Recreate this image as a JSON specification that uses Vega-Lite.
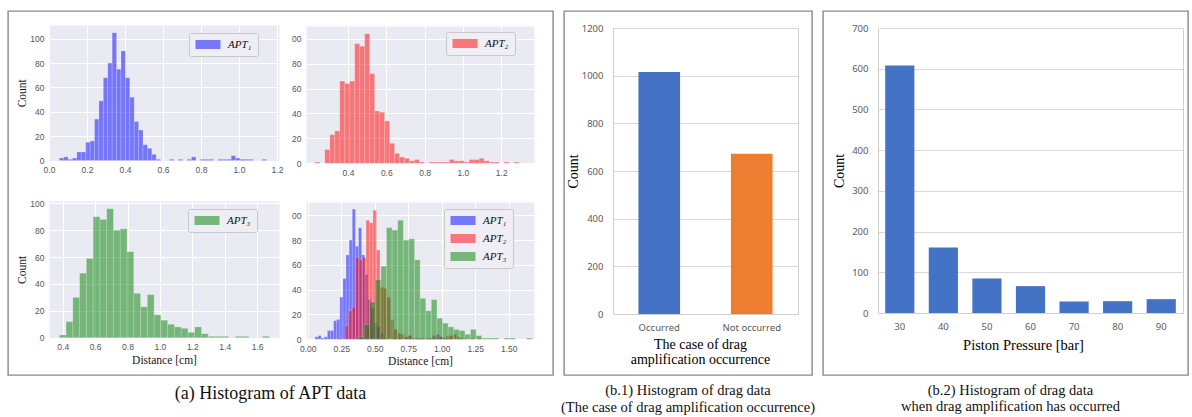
{
  "$schema": "https://vega.github.io/schema/vega-lite/v6.json",
  "background": "white",
  "padding": {"left": 7, "top": 10, "right": 4, "bottom": 0},
  "autosize": {"type": "pad"},
  "spacing": 11,
  "bounds": "flush",
  "datasets": {
    "apt": [
      {"s":"APT₁","x0":0.0540,"x1":0.0772,"n":2},{"s":"APT₁","x0":0.0772,"x1":0.1004,"n":3},{"s":"APT₁","x0":0.1004,"x1":0.1236,"n":1},{"s":"APT₁","x0":0.1236,"x1":0.1468,"n":2},{"s":"APT₁","x0":0.1468,"x1":0.1700,"n":7},{"s":"APT₁","x0":0.1700,"x1":0.1932,"n":7},{"s":"APT₁","x0":0.1932,"x1":0.2164,"n":15},{"s":"APT₁","x0":0.2164,"x1":0.2396,"n":16},{"s":"APT₁","x0":0.2396,"x1":0.2628,"n":34},{"s":"APT₁","x0":0.2628,"x1":0.2860,"n":49},{"s":"APT₁","x0":0.2860,"x1":0.3092,"n":68},{"s":"APT₁","x0":0.3092,"x1":0.3324,"n":80},{"s":"APT₁","x0":0.3324,"x1":0.3556,"n":105},{"s":"APT₁","x0":0.3556,"x1":0.3788,"n":75},{"s":"APT₁","x0":0.3788,"x1":0.4020,"n":90},{"s":"APT₁","x0":0.4020,"x1":0.4252,"n":68},{"s":"APT₁","x0":0.4252,"x1":0.4484,"n":52},{"s":"APT₁","x0":0.4484,"x1":0.4716,"n":32},{"s":"APT₁","x0":0.4716,"x1":0.4948,"n":25},{"s":"APT₁","x0":0.4948,"x1":0.5180,"n":13},{"s":"APT₁","x0":0.5180,"x1":0.5412,"n":10},{"s":"APT₁","x0":0.5412,"x1":0.5644,"n":5},{"s":"APT₁","x0":0.5644,"x1":0.5876,"n":1},{"s":"APT₁","x0":0.6340,"x1":0.6572,"n":1},{"s":"APT₁","x0":0.6804,"x1":0.7036,"n":1},{"s":"APT₁","x0":0.7268,"x1":0.7500,"n":1},{"s":"APT₁","x0":0.7500,"x1":0.7732,"n":3},{"s":"APT₁","x0":0.7964,"x1":0.8196,"n":1},{"s":"APT₁","x0":0.8196,"x1":0.8428,"n":1},{"s":"APT₁","x0":0.8428,"x1":0.8660,"n":1},{"s":"APT₁","x0":0.8892,"x1":0.9124,"n":1},{"s":"APT₁","x0":0.9124,"x1":0.9356,"n":1},{"s":"APT₁","x0":0.9356,"x1":0.9588,"n":1},{"s":"APT₁","x0":0.9588,"x1":0.9820,"n":4},{"s":"APT₁","x0":0.9820,"x1":1.0052,"n":2},{"s":"APT₁","x0":1.0052,"x1":1.0284,"n":1},{"s":"APT₁","x0":1.0284,"x1":1.0516,"n":1},{"s":"APT₁","x0":1.0516,"x1":1.0748,"n":1},{"s":"APT₁","x0":1.1212,"x1":1.1444,"n":1},
      {"s":"APT₂","x0":0.227,"x1":0.253,"n":1},{"s":"APT₂","x0":0.279,"x1":0.305,"n":11},{"s":"APT₂","x0":0.305,"x1":0.331,"n":23},{"s":"APT₂","x0":0.331,"x1":0.357,"n":26},{"s":"APT₂","x0":0.357,"x1":0.383,"n":66},{"s":"APT₂","x0":0.383,"x1":0.409,"n":64},{"s":"APT₂","x0":0.409,"x1":0.435,"n":66},{"s":"APT₂","x0":0.435,"x1":0.461,"n":96},{"s":"APT₂","x0":0.461,"x1":0.487,"n":94},{"s":"APT₂","x0":0.487,"x1":0.513,"n":104},{"s":"APT₂","x0":0.513,"x1":0.539,"n":72},{"s":"APT₂","x0":0.539,"x1":0.565,"n":42},{"s":"APT₂","x0":0.565,"x1":0.591,"n":41},{"s":"APT₂","x0":0.591,"x1":0.617,"n":34},{"s":"APT₂","x0":0.617,"x1":0.643,"n":16},{"s":"APT₂","x0":0.643,"x1":0.669,"n":8},{"s":"APT₂","x0":0.669,"x1":0.695,"n":5},{"s":"APT₂","x0":0.695,"x1":0.721,"n":4},{"s":"APT₂","x0":0.721,"x1":0.747,"n":2},{"s":"APT₂","x0":0.747,"x1":0.773,"n":3},{"s":"APT₂","x0":0.773,"x1":0.799,"n":1},{"s":"APT₂","x0":0.825,"x1":0.851,"n":1},{"s":"APT₂","x0":0.851,"x1":0.877,"n":1},{"s":"APT₂","x0":0.877,"x1":0.903,"n":1},{"s":"APT₂","x0":0.903,"x1":0.929,"n":1},{"s":"APT₂","x0":0.929,"x1":0.955,"n":3},{"s":"APT₂","x0":0.955,"x1":0.981,"n":2},{"s":"APT₂","x0":0.981,"x1":1.007,"n":2},{"s":"APT₂","x0":1.007,"x1":1.033,"n":1},{"s":"APT₂","x0":1.033,"x1":1.059,"n":3},{"s":"APT₂","x0":1.059,"x1":1.085,"n":3},{"s":"APT₂","x0":1.085,"x1":1.111,"n":4},{"s":"APT₂","x0":1.111,"x1":1.137,"n":2},{"s":"APT₂","x0":1.137,"x1":1.163,"n":1},{"s":"APT₂","x0":1.163,"x1":1.189,"n":1},{"s":"APT₂","x0":1.215,"x1":1.241,"n":1},{"s":"APT₂","x0":1.267,"x1":1.293,"n":1},
      {"s":"APT₃","x0":0.3790,"x1":0.4208,"n":2},{"s":"APT₃","x0":0.4208,"x1":0.4626,"n":12},{"s":"APT₃","x0":0.4626,"x1":0.5044,"n":30},{"s":"APT₃","x0":0.5044,"x1":0.5462,"n":48},{"s":"APT₃","x0":0.5462,"x1":0.5880,"n":59},{"s":"APT₃","x0":0.5880,"x1":0.6298,"n":90},{"s":"APT₃","x0":0.6298,"x1":0.6716,"n":88},{"s":"APT₃","x0":0.6716,"x1":0.7134,"n":96},{"s":"APT₃","x0":0.7134,"x1":0.7552,"n":80},{"s":"APT₃","x0":0.7552,"x1":0.7970,"n":81},{"s":"APT₃","x0":0.7970,"x1":0.8388,"n":64},{"s":"APT₃","x0":0.8388,"x1":0.8806,"n":33},{"s":"APT₃","x0":0.8806,"x1":0.9224,"n":23},{"s":"APT₃","x0":0.9224,"x1":0.9642,"n":32},{"s":"APT₃","x0":0.9642,"x1":1.0060,"n":17},{"s":"APT₃","x0":1.0060,"x1":1.0478,"n":13},{"s":"APT₃","x0":1.0478,"x1":1.0896,"n":10},{"s":"APT₃","x0":1.0896,"x1":1.1314,"n":8},{"s":"APT₃","x0":1.1314,"x1":1.1732,"n":7},{"s":"APT₃","x0":1.1732,"x1":1.2150,"n":4},{"s":"APT₃","x0":1.2150,"x1":1.2568,"n":8},{"s":"APT₃","x0":1.2568,"x1":1.2986,"n":3},{"s":"APT₃","x0":1.2986,"x1":1.3404,"n":1},{"s":"APT₃","x0":1.3404,"x1":1.3822,"n":1},{"s":"APT₃","x0":1.3822,"x1":1.4240,"n":1},{"s":"APT₃","x0":1.4658,"x1":1.5076,"n":1},{"s":"APT₃","x0":1.5076,"x1":1.5494,"n":1},{"s":"APT₃","x0":1.6330,"x1":1.6748,"n":1}
    ],
    "drag": [
      {"case": "Occurred", "count": 1015},
      {"case": "Not occurred", "count": 672}
    ],
    "pressure": [
      {"p": "30", "count": 608},
      {"p": "40", "count": 161},
      {"p": "50", "count": 85},
      {"p": "60", "count": 66},
      {"p": "70", "count": 28},
      {"p": "80", "count": 29},
      {"p": "90", "count": 34}
    ]
  },
  "hconcat": [
    {
      "width": 545,
      "height": 364,
      "title": {"text": "(a) Histogram of APT data", "orient": "bottom", "anchor": "middle", "fontSize": 18, "offset": 10, "dx": -10},
      "layer": [
        {
          "layer": [
            {"data": {"values": [{}]},
             "mark": {"type": "point", "opacity": 0},
             "encoding": {
               "x": {"datum": 0.60525, "type": "quantitative", "scale": {"domain": [0, 1.2105], "range": [41, 271], "nice": false, "zero": false},
                     "axis": {"orient": "top", "values": [0.60525], "grid": true, "gridColor": "#EAEAF2", "gridWidth": 230, "gridOpacity": 1, "labels": false, "ticks": false, "domain": false, "title": null}},
               "y": {"datum": 50, "type": "quantitative", "scale": {"domain": [0, 111.3], "range": [149.5, 14], "nice": false, "zero": false},
                     "axis": {"orient": "left", "offset": -41, "values": [0, 20, 40, 60, 80, 100], "grid": true, "gridColor": "#ffffff", "ticks": false, "domain": false, "labelPadding": 5, "title": "Count", "titlePadding": 2}}}},
            {"data": {"values": [{}]},
             "mark": {"type": "point", "opacity": 0},
             "encoding": {
               "x": {"datum": 0.60525, "type": "quantitative", "scale": {"domain": [0, 1.2105], "range": [41, 271], "nice": false, "zero": false},
                     "axis": {"orient": "top", "values": [0, 0.2, 0.4, 0.6, 0.8, 1.0, 1.2], "grid": true, "gridColor": "#ffffff", "gridWidth": 1, "labels": false, "ticks": false, "domain": false, "title": null}},
               "y": {"datum": 50, "type": "quantitative", "scale": {"domain": [0, 111.3], "range": [149.5, 14], "nice": false, "zero": false}, "axis": null}}},
            {"data": {"name": "apt"},
             "transform": [{"filter": "datum.s === 'APT₁'"}],
             "mark": {"type": "bar", "fillOpacity": 0.5, "stroke": "#ffffff", "strokeWidth": 0.5, "strokeOpacity": 0.4},
             "encoding": {
               "x": {"field": "x0", "type": "quantitative", "scale": {"domain": [0, 1.2105], "range": [41, 271], "nice": false, "zero": false},
                     "axis": {"orient": "bottom", "offset": -214.5, "values": [0, 0.2, 0.4, 0.6, 0.8, 1.0, 1.2], "format": ".1f", "grid": false, "ticks": false, "domain": false, "labelPadding": 5, "title": null}},
               "x2": {"field": "x1"},
               "y": {"field": "n", "type": "quantitative", "scale": {"domain": [0, 111.3], "range": [149.5, 14], "nice": false, "zero": false}, "axis": null},
               "y2": {"datum": 0},
               "color": {"field": "s", "type": "nominal", "scale": {"domain": ["APT₁"], "range": ["#0000ff"]},
                         "legend": {"title": null, "orient": "none", "legendX": 181, "legendY": 22, "zindex": 2, "symbolType": "M-1,-0.9H4V0.9H-1Z", "symbolSize": 100, "symbolStrokeWidth": 0, "symbolOpacity": 0.5, "labelFont": "Liberation Serif", "labelFontStyle": "italic", "labelFontSize": 11, "labelColor": "#111111", "labelOffset": 22, "fillColor": "#EEEEF4", "strokeColor": "#C8C8C8", "padding": 6, "rowPadding": 6, "cornerRadius": 2}}}}
          ],
          "resolve": {"axis": {"x": "independent", "y": "independent"}}
        },
        {
          "layer": [
            {"data": {"values": [{}]},
             "mark": {"type": "point", "opacity": 0},
             "encoding": {
               "x": {"datum": 0.776, "type": "quantitative", "scale": {"domain": [0.1807, 1.3713], "range": [298, 526], "nice": false, "zero": false},
                     "axis": {"orient": "top", "values": [0.776], "grid": true, "gridColor": "#EAEAF2", "gridWidth": 228, "gridOpacity": 1, "labels": false, "ticks": false, "domain": false, "title": null}},
               "y": {"datum": 50, "type": "quantitative", "scale": {"domain": [0, 110.2], "range": [152.3, 15], "nice": false, "zero": false},
                     "axis": {"orient": "left", "offset": -298, "values": [0, 20, 40, 60, 80, 100], "labelExpr": "datum.value == 100 ? '00' : datum.label", "grid": true, "gridColor": "#ffffff", "ticks": false, "domain": false, "labelPadding": 5, "title": null}}}},
            {"data": {"values": [{}]},
             "mark": {"type": "point", "opacity": 0},
             "encoding": {
               "x": {"datum": 0.776, "type": "quantitative", "scale": {"domain": [0.1807, 1.3713], "range": [298, 526], "nice": false, "zero": false},
                     "axis": {"orient": "top", "values": [0.4, 0.6, 0.8, 1.0, 1.2], "grid": true, "gridColor": "#ffffff", "gridWidth": 1, "labels": false, "ticks": false, "domain": false, "title": null}},
               "y": {"datum": 50, "type": "quantitative", "scale": {"domain": [0, 110.2], "range": [152.3, 15], "nice": false, "zero": false}, "axis": null}}},
            {"data": {"name": "apt"},
             "transform": [{"filter": "datum.s === 'APT₂'"}],
             "mark": {"type": "bar", "fillOpacity": 0.5, "stroke": "#ffffff", "strokeWidth": 0.5, "strokeOpacity": 0.4},
             "encoding": {
               "x": {"field": "x0", "type": "quantitative", "scale": {"domain": [0.1807, 1.3713], "range": [298, 526], "nice": false, "zero": false},
                     "axis": {"orient": "bottom", "offset": -211.7, "values": [0.4, 0.6, 0.8, 1.0, 1.2], "format": ".1f", "grid": false, "ticks": false, "domain": false, "labelPadding": 5, "title": null}},
               "x2": {"field": "x1"},
               "y": {"field": "n", "type": "quantitative", "scale": {"domain": [0, 110.2], "range": [152.3, 15], "nice": false, "zero": false}, "axis": null},
               "y2": {"datum": 0},
               "color": {"field": "s", "type": "nominal", "scale": {"domain": ["APT₂"], "range": ["#ff0000"]},
                         "legend": {"title": null, "orient": "none", "legendX": 438, "legendY": 21, "zindex": 2, "symbolType": "M-1,-0.9H4V0.9H-1Z", "symbolSize": 100, "symbolStrokeWidth": 0, "symbolOpacity": 0.5, "labelFont": "Liberation Serif", "labelFontStyle": "italic", "labelFontSize": 11, "labelColor": "#111111", "labelOffset": 22, "fillColor": "#EEEEF4", "strokeColor": "#C8C8C8", "padding": 6, "rowPadding": 6, "cornerRadius": 2}}}}
          ],
          "resolve": {"axis": {"x": "independent", "y": "independent"}}
        },
        {
          "layer": [
            {"data": {"values": [{}]},
             "mark": {"type": "point", "opacity": 0},
             "encoding": {
               "x": {"datum": 1.0253, "type": "quantitative", "scale": {"domain": [0.3154, 1.7352], "range": [41, 271], "nice": false, "zero": false},
                     "axis": {"orient": "top", "values": [1.0253], "grid": true, "gridColor": "#EAEAF2", "gridWidth": 230, "gridOpacity": 1, "labels": false, "ticks": false, "domain": false, "title": null}},
               "y": {"datum": 50, "type": "quantitative", "scale": {"domain": [0, 101.7], "range": [326.7, 190], "nice": false, "zero": false},
                     "axis": {"orient": "left", "offset": -41, "values": [0, 20, 40, 60, 80, 100], "grid": true, "gridColor": "#ffffff", "ticks": false, "domain": false, "labelPadding": 5, "title": "Count", "titlePadding": 2}}}},
            {"data": {"values": [{}]},
             "mark": {"type": "point", "opacity": 0},
             "encoding": {
               "x": {"datum": 1.0253, "type": "quantitative", "scale": {"domain": [0.3154, 1.7352], "range": [41, 271], "nice": false, "zero": false},
                     "axis": {"orient": "top", "values": [0.4, 0.6, 0.8, 1.0, 1.2, 1.4, 1.6], "grid": true, "gridColor": "#ffffff", "gridWidth": 1, "labels": false, "ticks": false, "domain": false, "title": null}},
               "y": {"datum": 50, "type": "quantitative", "scale": {"domain": [0, 101.7], "range": [326.7, 190], "nice": false, "zero": false}, "axis": null}}},
            {"data": {"name": "apt"},
             "transform": [{"filter": "datum.s === 'APT₃'"}],
             "mark": {"type": "bar", "fillOpacity": 0.5, "stroke": "#ffffff", "strokeWidth": 0.5, "strokeOpacity": 0.4},
             "encoding": {
               "x": {"field": "x0", "type": "quantitative", "scale": {"domain": [0.3154, 1.7352], "range": [41, 271], "nice": false, "zero": false},
                     "axis": {"orient": "bottom", "offset": -37.3, "values": [0.4, 0.6, 0.8, 1.0, 1.2, 1.4, 1.6], "format": ".1f", "grid": false, "ticks": false, "domain": false, "labelPadding": 5, "title": "Distance [cm]", "titlePadding": 3}},
               "x2": {"field": "x1"},
               "y": {"field": "n", "type": "quantitative", "scale": {"domain": [0, 101.7], "range": [326.7, 190], "nice": false, "zero": false}, "axis": null},
               "y2": {"datum": 0},
               "color": {"field": "s", "type": "nominal", "scale": {"domain": ["APT₃"], "range": ["#008000"]},
                         "legend": {"title": null, "orient": "none", "legendX": 180, "legendY": 198, "zindex": 2, "symbolType": "M-1,-0.9H4V0.9H-1Z", "symbolSize": 100, "symbolStrokeWidth": 0, "symbolOpacity": 0.5, "labelFont": "Liberation Serif", "labelFontStyle": "italic", "labelFontSize": 11, "labelColor": "#111111", "labelOffset": 22, "fillColor": "#EEEEF4", "strokeColor": "#C8C8C8", "padding": 6, "rowPadding": 6, "cornerRadius": 2}}}}
          ],
          "resolve": {"axis": {"x": "independent", "y": "independent"}}
        },
        {
          "layer": [
            {"data": {"values": [{}]},
             "mark": {"type": "point", "opacity": 0},
             "encoding": {
               "x": {"datum": 0.83775, "type": "quantitative", "scale": {"domain": [-0.013, 1.6885], "range": [298, 526], "nice": false, "zero": false},
                     "axis": {"orient": "top", "values": [0.83775], "grid": true, "gridColor": "#EAEAF2", "gridWidth": 228, "gridOpacity": 1, "labels": false, "ticks": false, "domain": false, "title": null}},
               "y": {"datum": 50, "type": "quantitative", "scale": {"domain": [0, 110.7], "range": [328.3, 191], "nice": false, "zero": false},
                     "axis": {"orient": "left", "offset": -298, "values": [0, 20, 40, 60, 80, 100], "labelExpr": "datum.value == 100 ? '00' : datum.label", "grid": true, "gridColor": "#ffffff", "ticks": false, "domain": false, "labelPadding": 5, "title": null}}}},
            {"data": {"values": [{}]},
             "mark": {"type": "point", "opacity": 0},
             "encoding": {
               "x": {"datum": 0.83775, "type": "quantitative", "scale": {"domain": [-0.013, 1.6885], "range": [298, 526], "nice": false, "zero": false},
                     "axis": {"orient": "top", "values": [0, 0.25, 0.5, 0.75, 1.0, 1.25, 1.5], "grid": true, "gridColor": "#ffffff", "gridWidth": 1, "labels": false, "ticks": false, "domain": false, "title": null}},
               "y": {"datum": 50, "type": "quantitative", "scale": {"domain": [0, 110.7], "range": [328.3, 191], "nice": false, "zero": false}, "axis": null}}},
            {"data": {"name": "apt"},
             "mark": {"type": "bar", "fillOpacity": 0.5, "stroke": "#ffffff", "strokeWidth": 0.5, "strokeOpacity": 0.4},
             "encoding": {
               "x": {"field": "x0", "type": "quantitative", "scale": {"domain": [-0.013, 1.6885], "range": [298, 526], "nice": false, "zero": false},
                     "axis": {"orient": "bottom", "offset": -35.7, "values": [0, 0.25, 0.5, 0.75, 1.0, 1.25, 1.5], "format": ".2f", "grid": false, "ticks": false, "domain": false, "labelPadding": 5, "title": "Distance [cm]", "titlePadding": 3}},
               "x2": {"field": "x1"},
               "y": {"field": "n", "type": "quantitative", "scale": {"domain": [0, 110.7], "range": [328.3, 191], "nice": false, "zero": false}, "axis": null},
               "y2": {"datum": 0},
               "color": {"field": "s", "type": "nominal", "scale": {"domain": ["APT₁", "APT₂", "APT₃"], "range": ["#0000ff", "#ff0000", "#008000"]},
                         "legend": {"title": null, "orient": "none", "legendX": 436, "legendY": 198, "zindex": 2, "symbolType": "M-1,-0.9H4V0.9H-1Z", "symbolSize": 100, "symbolStrokeWidth": 0, "symbolOpacity": 0.5, "labelFont": "Liberation Serif", "labelFontStyle": "italic", "labelFontSize": 11, "labelColor": "#111111", "labelOffset": 22, "fillColor": "#EEEEF4", "strokeColor": "#C8C8C8", "padding": 6, "rowPadding": 6, "cornerRadius": 2}}}}
          ],
          "resolve": {"axis": {"x": "independent", "y": "independent"}}
        }
      ],
      "resolve": {"scale": {"x": "independent", "y": "independent", "color": "independent"}, "axis": {"x": "independent", "y": "independent"}, "legend": {"color": "independent"}}
    },
    {
      "width": 248,
      "height": 364,
      "data": {"name": "drag"},
      "title": {"text": ["(b.1) Histogram of drag data", "(The case of drag amplification occurrence)"], "orient": "bottom", "anchor": "middle", "fontSize": 14.5, "lineHeight": 17, "offset": 9},
      "layer": [
        {"mark": {"type": "bar"},
         "encoding": {
           "x": {"field": "case", "type": "nominal", "sort": null,
                 "scale": {"domain": ["Occurred", "Not occurred"], "range": [49, 234], "paddingInner": 0.55, "paddingOuter": 0.275},
                 "axis": {"orient": "bottom", "offset": -61, "labelAngle": 0, "ticks": false, "domain": true, "domainColor": "#D0D0D0", "grid": false, "labelFont": "Noto Sans", "labelFontSize": 9.5, "labelColor": "#595959", "labelPadding": 8, "title": ["The case of drag", "amplification occurrence"], "titleFontSize": 14, "titleColor": "#000000", "titleLineHeight": 15, "titlePadding": 6, "titleX": 136}},
           "y": {"field": "count", "type": "quantitative",
                 "scale": {"domain": [0, 1200], "range": [303, 17], "nice": false, "zero": false},
                 "axis": {"orient": "left", "offset": -49, "values": [0, 200, 400, 600, 800, 1000, 1200], "format": "d", "grid": true, "gridColor": "#D9D9D9", "ticks": false, "domain": true, "domainColor": "#D0D0D0", "labelFont": "Noto Sans", "labelFontSize": 9.5, "labelColor": "#595959", "labelPadding": 10, "title": "Count", "titleFontSize": 14, "titleColor": "#000000", "titlePadding": 1}},
           "color": {"field": "case", "type": "nominal", "scale": {"domain": ["Occurred", "Not occurred"], "range": ["#4472C4", "#ED7D31"]}, "legend": null}}},
        {"mark": {"type": "point", "opacity": 0},
         "encoding": {
           "y": {"field": "count", "type": "quantitative",
                 "scale": {"domain": [0, 1200], "range": [303, 17], "nice": false, "zero": false},
                 "axis": {"orient": "right", "offset": -14, "domain": true, "domainColor": "#D0D0D0", "labels": false, "ticks": false, "grid": false, "title": null}}}}
      ],
      "resolve": {"axis": {"y": "independent"}}
    },
    {
      "width": 365,
      "height": 364,
      "data": {"name": "pressure"},
      "title": {"text": ["(b.2) Histogram of drag data", "when drag amplification has occurred"], "orient": "bottom", "anchor": "middle", "fontSize": 14.5, "lineHeight": 16, "offset": 9, "dx": 5},
      "layer": [
        {"mark": {"type": "bar", "color": "#4472C4"},
         "encoding": {
           "x": {"field": "p", "type": "nominal", "sort": null,
                 "scale": {"domain": ["30", "40", "50", "60", "70", "80", "90"], "range": [55, 360], "paddingInner": 0.33, "paddingOuter": 0.165},
                 "axis": {"orient": "bottom", "offset": -62, "labelAngle": 0, "ticks": false, "domain": true, "domainColor": "#D0D0D0", "grid": false, "labelFont": "Noto Sans", "labelFontSize": 9.5, "labelColor": "#595959", "labelPadding": 8, "title": "Piston Pressure [bar]", "titleFontSize": 14.5, "titleColor": "#000000", "titlePadding": 8, "titleX": 200}},
           "y": {"field": "count", "type": "quantitative",
                 "scale": {"domain": [0, 700], "range": [302, 17], "nice": false, "zero": false},
                 "axis": {"orient": "left", "offset": -55, "values": [0, 100, 200, 300, 400, 500, 600, 700], "format": "d", "grid": true, "gridColor": "#D9D9D9", "ticks": false, "domain": true, "domainColor": "#D0D0D0", "labelFont": "Noto Sans", "labelFontSize": 9.5, "labelColor": "#595959", "labelPadding": 10, "title": "Count", "titleFontSize": 14, "titleColor": "#000000", "titlePadding": 5}}}},
        {"mark": {"type": "point", "opacity": 0},
         "encoding": {
           "y": {"field": "count", "type": "quantitative",
                 "scale": {"domain": [0, 700], "range": [302, 17], "nice": false, "zero": false},
                 "axis": {"orient": "right", "offset": -5, "domain": true, "domainColor": "#D0D0D0", "labels": false, "ticks": false, "grid": false, "title": null}}}}
      ],
      "resolve": {"axis": {"y": "independent"}}
    }
  ],
  "config": {
    "view": {"stroke": "#8a8a8a", "strokeWidth": 1.4},
    "axis": {"labelFont": "Liberation Sans", "labelFontSize": 8.5, "labelColor": "#555555", "labelFlush": false, "labelOverlap": false, "titleFont": "Liberation Serif", "titleFontSize": 11.5, "titleFontWeight": "normal", "titleColor": "#1a1a1a"},
    "title": {"font": "Liberation Serif", "fontWeight": "normal", "color": "#111111"}
  }
}
